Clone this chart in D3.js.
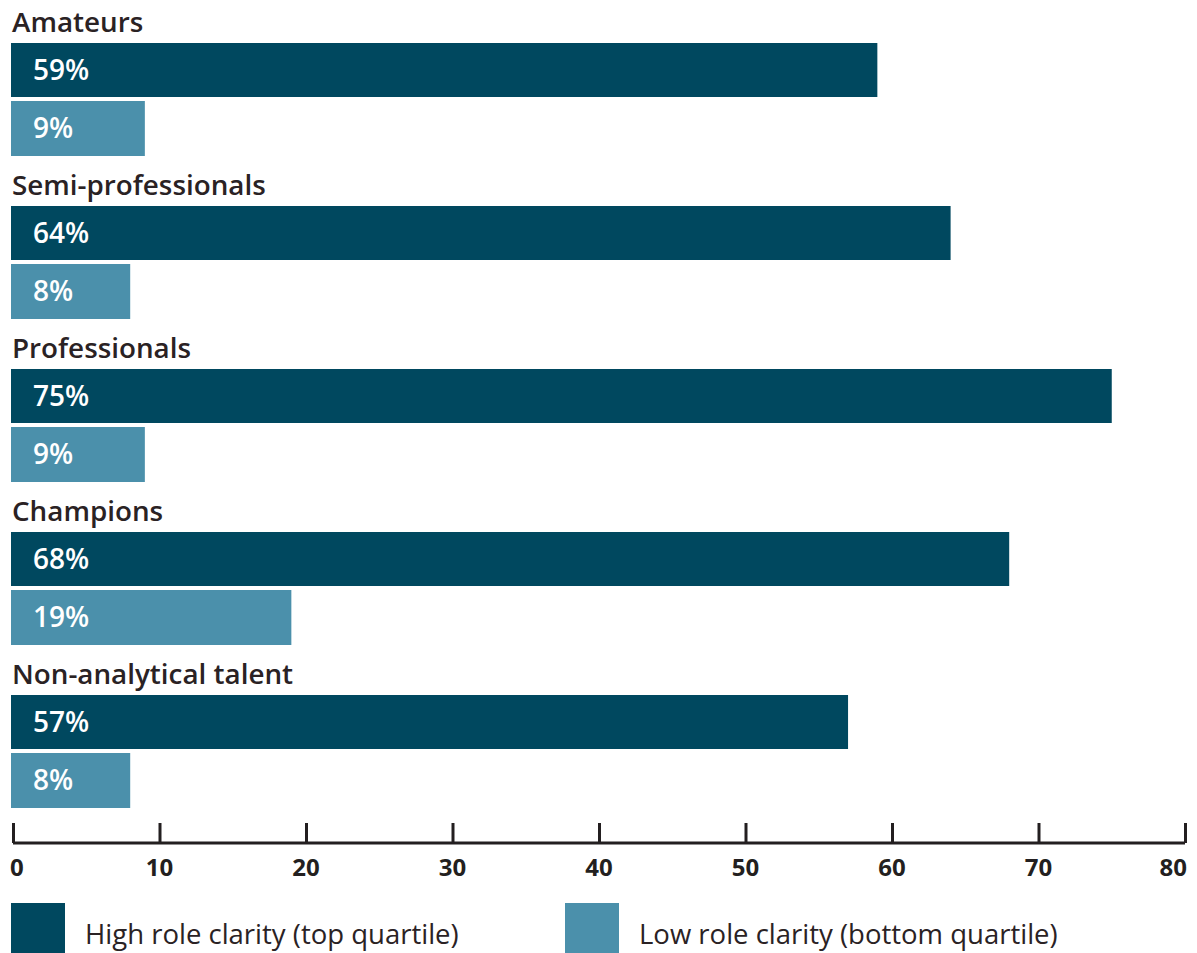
<!DOCTYPE html>
<html>
<head>
<meta charset="utf-8">
<script src="https://cdn.jsdelivr.net/npm/d3@7"></script>
<style>
  body{margin:0;background:#fff;}
  svg text{font-family:"Open Sans","Noto Sans",sans-serif;}
</style>
</head>
<body>
<div id="chart"></div>
<script>
// data
const groups=["Amateurs","Semi-professionals","Professionals","Champions","Non-analytical talent"];
const high=[59,64,75,68,57];
const low=[9,8,9,19,8];
const series=["High role clarity (top quartile)","Low role clarity (bottom quartile)"];
const ticks=[0,10,20,30,40,50,60,70,80];
const C={high:"#00485f",low:"#4b90ab"};

const W=1197,H=953;
const svg=d3.select("#chart").append("svg").attr("width",W).attr("height",H);

const x=d3.scaleLinear().domain([0,80]).range([13,1185]);
const yG=d3.scaleBand().domain(groups).range([0,815]);
const barH=54, gap=4, labH=43;

const g=svg.selectAll(".grp").data(groups).join("g").attr("class","grp")
  .attr("transform",d=>`translate(0,${yG(d)})`);

g.append("text").attr("x",12).attr("y",32)
  .attr("font-size",27.8).attr("font-weight",600).attr("fill","#2a2224")
  .text(d=>d);

// high bars
g.append("rect").attr("x",x(0)-2).attr("y",labH)
  .attr("width",(d,i)=>x(high[i])-x(0)+2).attr("height",barH).attr("fill",C.high);
g.append("text").attr("x",33).attr("y",labH+barH/2+10)
  .attr("font-size",28).attr("font-weight",600).attr("fill","#fff")
  .text((d,i)=>high[i]+"%");

// low bars
g.append("rect").attr("x",x(0)-2).attr("y",labH+barH+gap)
  .attr("width",(d,i)=>x(low[i])-x(0)+2).attr("height",barH+1).attr("fill",C.low);
g.append("text").attr("x",33).attr("y",labH+barH+gap+barH/2+10)
  .attr("font-size",28).attr("font-weight",600).attr("fill","#fff")
  .text((d,i)=>low[i]+"%");

// axis
const ax=svg.append("g").attr("transform","translate(0,843)")
  .call(d3.axisTop(x).tickValues(ticks).tickSize(20).tickFormat(""));
ax.select(".domain").attr("stroke","#231f20").attr("stroke-width",3).attr("d",`M${x(0)},0H${x(80)}`);
ax.selectAll(".tick line").attr("stroke","#231f20").attr("stroke-width",3);
svg.selectAll(".tl").data(ticks).join("text").attr("class","tl")
  .attr("x",d=>d===0?x(d)-3:d===80?x(d)+2:x(d)).attr("y",876)
  .attr("text-anchor",d=>d===0?"start":d===80?"end":"middle")
  .attr("font-size",24).attr("font-weight",700).attr("fill","#231f20")
  .text(d=>d);

// legend
const lg=svg.selectAll(".lg").data(series).join("g").attr("class","lg")
  .attr("transform",(d,i)=>`translate(${i===0?11:565},903)`);
lg.append("rect").attr("width",54).attr("height",50).attr("fill",(d,i)=>i===0?C.high:C.low);
lg.append("text").attr("x",74).attr("y",41).attr("font-size",27.5).attr("fill","#2a2224")
  .text(d=>d);
</script>
</body>
</html>
